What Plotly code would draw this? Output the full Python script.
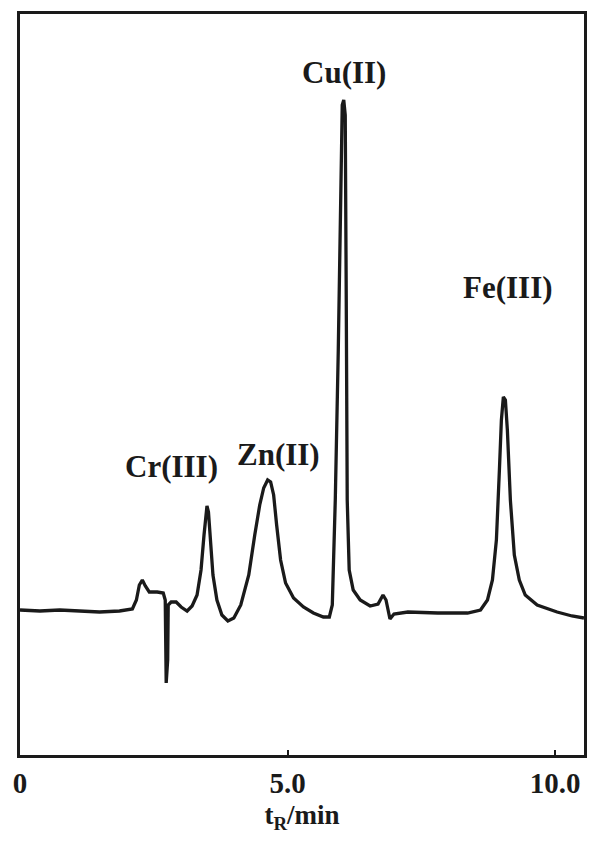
import plotly.graph_objects as go

# Chromatogram trace (time in min, detector signal in a.u.)
time_min = [0.000, 0.372, 0.743, 1.115, 1.487, 1.859, 2.100, 2.175, 2.230, 2.286,
            2.342, 2.416, 2.565, 2.677, 2.714, 2.732, 2.760, 2.770, 2.825, 2.918,
            3.011, 3.123, 3.216, 3.309, 3.383, 3.439, 3.476, 3.494, 3.522, 3.550,
            3.606, 3.680, 3.773, 3.885, 3.996, 4.126, 4.275, 4.387, 4.480, 4.554,
            4.628, 4.684, 4.740, 4.796, 4.870, 4.963, 5.112, 5.297, 5.483, 5.669,
            5.781, 5.836, 5.892, 5.948, 5.985, 6.022, 6.050, 6.078, 6.097, 6.115,
            6.152, 6.227, 6.357, 6.543, 6.691, 6.784, 6.840, 6.914, 6.989, 7.249,
            7.807, 8.364, 8.606, 8.736, 8.829, 8.903, 8.959, 8.996, 9.033, 9.071,
            9.108, 9.164, 9.238, 9.331, 9.442, 9.665, 10.037, 10.316, 10.539]
signal = [145, 144, 145, 144, 143, 144, 146, 155, 170, 175,
          169, 163, 163, 162, 155, 72, 95, 150, 153, 153,
          148, 144, 149, 160, 185, 220, 245, 249, 243, 220,
          180, 155, 140, 134, 137, 150, 180, 220, 250, 267,
          275, 273, 260, 230, 195, 172, 157, 148, 142, 138,
          138, 150, 255, 405, 535, 650, 655, 640, 455, 255,
          185, 165, 155, 149, 151, 160, 155, 136, 141, 143,
          142, 142, 145, 155, 175, 215, 285, 335, 358, 355,
          325, 255, 200, 175, 160, 150, 143, 139, 137]

# Peak labels and their positions (min, a.u.)
peak_names = ["Cr(III)", "Zn(II)", "Cu(II)", "Fe(III)"]
label_x = [2.825, 4.833, 6.06, 9.126]
label_y = [289, 301, 683, 468]

tick_vals = [0, 5, 10]
tick_text = ["0", "5.0", "10.0"]

FONT = "Liberation Serif, Times New Roman, serif"
INK = "#1a1a1a"

fig = go.Figure()
fig.add_trace(go.Scatter(x=time_min, y=signal, mode="lines",
                         line=dict(color=INK, width=3.3), hoverinfo="skip",
                         showlegend=False))

for name, lx, ly in zip(peak_names, label_x, label_y):
    fig.add_annotation(x=lx, y=ly, xref="x", yref="y", text="<b>%s</b>" % name,
                       showarrow=False, font=dict(family=FONT, size=31, color=INK))

fig.update_layout(
    width=594, height=846,
    margin=dict(l=20, r=7, t=14, b=91),
    paper_bgcolor="white", plot_bgcolor="white",
    showlegend=False,
    xaxis=dict(range=[0, 10.54], showgrid=False, zeroline=False,
               showline=True, linecolor=INK, linewidth=3, mirror=True,
               ticks="inside", ticklen=5, tickwidth=2, tickcolor=INK,
               tickvals=tick_vals, ticktext=tick_text,
               tickfont=dict(family=FONT, size=29, color=INK, weight="bold"),
               title=dict(text="<b>t<sub>R</sub>/min</b>",
                          font=dict(family=FONT, size=27, color=INK),
                          standoff=8)),
    yaxis=dict(range=[0, 741], showgrid=False, zeroline=False,
               showline=True, linecolor=INK, linewidth=3, mirror=True,
               showticklabels=False, ticks=""),
)

fig.write_html("out.html")
